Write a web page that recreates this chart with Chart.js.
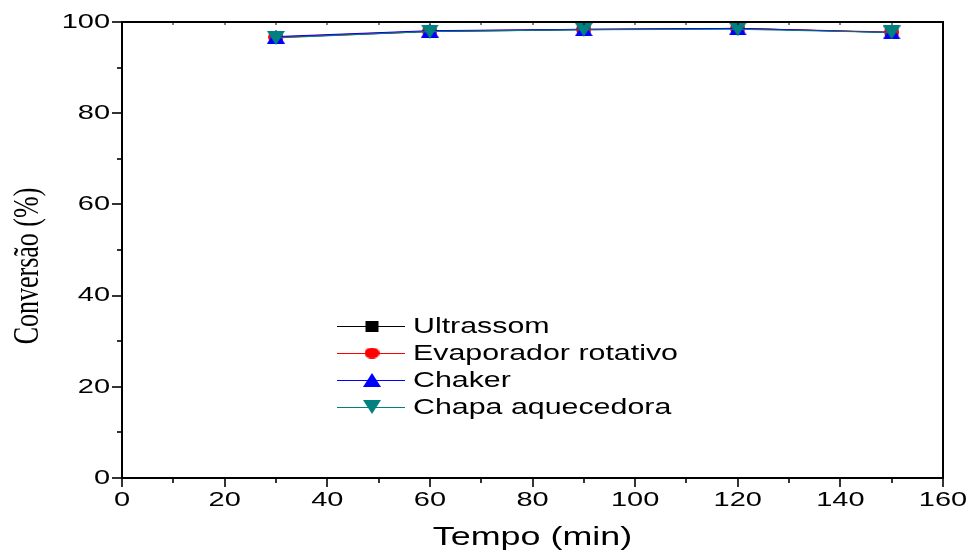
<!DOCTYPE html>
<html>
<head>
<meta charset="utf-8">
<script src="https://cdn.jsdelivr.net/npm/chart.js@4/dist/chart.umd.min.js"></script>
<style>
  html, body { margin: 0; padding: 0; background: #fff; }
  #c { display: block; }
</style>
</head>
<body>
<canvas id="c" width="967" height="553"></canvas>
<script>
// data
const tempo = [30, 60, 90, 120, 150];
const ultrassom  = [96.6, 97.9, 98.3, 98.6, 97.7];
const evaporador = [96.7, 98.0, 98.4, 98.6, 97.8];
const chaker     = [96.8, 98.1, 98.4, 98.6, 97.7];
const chapa      = [96.5, 97.9, 98.3, 98.4, 97.7];

const seriesNames = ['Ultrassom', 'Evaporador rotativo', 'Chaker', 'Chapa aquecedora'];
const seriesColors = ['#000000', '#ff0000', '#0000ff', '#008080'];
const xTicks = [0, 20, 40, 60, 80, 100, 120, 140, 160];
const yTicks = [0, 20, 40, 60, 80, 100];

const STRETCH = 1.38; // the original picture is widened horizontally

// small marker images, widened like the rest of the picture
function makeMarker(shape, color, w, h) {
  const cv = document.createElement('canvas');
  cv.width = w; cv.height = h;
  const c = cv.getContext('2d');
  c.fillStyle = color;
  c.beginPath();
  if (shape === 'square') {
    c.rect(1, 0, w - 2, h);
  } else if (shape === 'circle') {
    c.ellipse(w / 2, h / 2, w / 2, h / 2, 0, 0, Math.PI * 2);
  } else if (shape === 'up') {
    c.moveTo(w / 2, 0); c.lineTo(w, h); c.lineTo(0, h);
  } else {
    c.moveTo(0, 0); c.lineTo(w, 0); c.lineTo(w / 2, h);
  }
  c.closePath();
  c.fill();
  return cv;
}

const markers = [
  makeMarker('square', seriesColors[0], 15, 11),
  makeMarker('circle', seriesColors[1], 15, 11),
  makeMarker('up', seriesColors[2], 18, 14),
  makeMarker('down', seriesColors[3], 18, 14)
];

const allValues = [ultrassom, evaporador, chaker, chapa];

const datasets = allValues.map((vals, i) => ({
  label: seriesNames[i],
  data: tempo.map((t, k) => ({ x: t, y: vals[k] })),
  borderColor: seriesColors[i],
  backgroundColor: seriesColors[i],
  borderWidth: 1,
  pointStyle: markers[i],
  tension: 0,
  order: 4 - i
}));

function sText(ctx, str, x, y, font, align) {
  ctx.save();
  ctx.translate(x, y);
  ctx.scale(STRETCH, 1);
  ctx.font = font;
  ctx.textAlign = align;
  ctx.textBaseline = 'middle';
  ctx.fillStyle = '#000';
  ctx.fillText(str, 0, 0);
  ctx.restore();
}

const framePlugin = {
  id: 'frame',
  afterDraw(chart) {
    const ctx = chart.ctx;
    const area = chart.chartArea;
    const xs = chart.scales.x, ys = chart.scales.y;
    ctx.save();
    ctx.strokeStyle = '#000';
    ctx.lineWidth = 2;
    // top and right border
    ctx.beginPath();
    ctx.moveTo(area.left - 1, area.top);
    ctx.lineTo(area.right, area.top);
    ctx.lineTo(area.right, area.bottom + 1);
    ctx.stroke();

    // tick marks
    ctx.lineWidth = 1.6;
    for (let v = 0; v <= 160; v += 10) {
      const px = Math.round(xs.getPixelForValue(v));
      const len = v % 20 === 0 ? 9 : 5;
      ctx.beginPath();
      ctx.moveTo(px, area.bottom);
      ctx.lineTo(px, area.bottom + len);
      ctx.stroke();
      if (v > 0 && v < 160) {
        ctx.beginPath();
        ctx.lineWidth = 1;
        ctx.moveTo(px, area.top);
        ctx.lineTo(px, area.top + 3);
        ctx.stroke();
        ctx.lineWidth = 1.6;
      }
    }
    for (let v = 0; v <= 100; v += 10) {
      const py = Math.round(ys.getPixelForValue(v));
      const len = v % 20 === 0 ? 10 : 5;
      ctx.beginPath();
      ctx.moveTo(area.left, py);
      ctx.lineTo(area.left - len, py);
      ctx.stroke();
    }

    // tick labels
    const tickFont = '21px "Liberation Sans", Arial, sans-serif';
    xTicks.forEach(v => sText(ctx, String(v), xs.getPixelForValue(v), 500, tickFont, 'center'));
    yTicks.forEach(v => {
      ctx.save();
      ctx.translate(110, ys.getPixelForValue(v));
      ctx.scale(STRETCH, 1);
      ctx.font = tickFont;
      ctx.textAlign = 'right';
      ctx.textBaseline = 'middle';
      ctx.fillStyle = '#000';
      ctx.fillText(String(v), 0, 0);
      ctx.restore();
    });

    // axis titles
    sText(ctx, 'Tempo (min)', (area.left + area.right) / 2, 538, '26px "Liberation Sans", Arial, sans-serif', 'center');
    ctx.save();
    ctx.translate(29, 266);
    ctx.rotate(-Math.PI / 2);
    ctx.scale(1, STRETCH);
    ctx.font = '26px "Liberation Serif", "Times New Roman", serif';
    ctx.textAlign = 'center';
    ctx.textBaseline = 'middle';
    ctx.fillStyle = '#000';
    ctx.fillText('Conversão (%)', 0, 0);
    ctx.restore();

    // legend
    const rows = [326, 353, 380, 407];
    chart.data.datasets.forEach((ds, i) => {
      const y = rows[i];
      ctx.strokeStyle = ds.borderColor;
      ctx.lineWidth = 1;
      ctx.beginPath();
      ctx.moveTo(337, y + 0.5);
      ctx.lineTo(405, y + 0.5);
      ctx.stroke();
      const m = ds.pointStyle;
      ctx.drawImage(m, 372 - m.width / 2, y - m.height / 2);
      sText(ctx, ds.label, 413, y + 1, '22px "Liberation Sans", Arial, sans-serif', 'left');
    });
    ctx.restore();
  }
};

new Chart(document.getElementById('c'), {
  type: 'line',
  data: { datasets: datasets },
  options: {
    responsive: false,
    animation: false,
    layout: { padding: { left: 0, right: 24, top: 22, bottom: 0 } },
    plugins: {
      legend: { display: false },
      tooltip: { enabled: false }
    },
    scales: {
      x: {
        type: 'linear',
        min: 0,
        max: 160,
        ticks: { display: false, stepSize: 20 },
        grid: { display: false },
        border: { display: true, color: '#000', width: 2 },
        afterFit: s => { s.height = 75; }
      },
      y: {
        min: 0,
        max: 100,
        ticks: { display: false, stepSize: 20 },
        grid: { display: false },
        border: { display: true, color: '#000', width: 2 },
        afterFit: s => { s.width = 122; }
      }
    }
  },
  plugins: [framePlugin]
});
</script>
</body>
</html>
